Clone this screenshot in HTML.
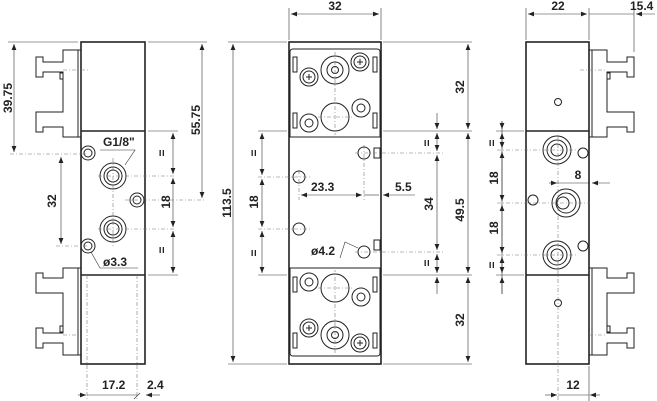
<!DOCTYPE html>
<html><head><meta charset="utf-8"><style>
html,body{margin:0;padding:0;background:#fff;}
svg{display:block;}
text{font-family:"Liberation Sans",Arial,sans-serif;font-weight:bold;font-size:12px;fill:#222;}
.b{fill:none;stroke:#222;stroke-width:1.6;}
.t{fill:none;stroke:#222;stroke-width:1;}
.d{fill:none;stroke:#333;stroke-width:0.6;}
.c{fill:none;stroke:#777;stroke-width:0.6;stroke-dasharray:4 2 1 2;}
</style></head><body>
<svg width="657" height="401" viewBox="0 0 657 401" xmlns="http://www.w3.org/2000/svg">
<defs>
<marker id="a" viewBox="0 0 10 10" refX="10" refY="5" markerWidth="8" markerHeight="6" orient="auto-start-reverse" markerUnits="userSpaceOnUse"><path d="M0,1 L10,5 L0,9z" fill="#222"/></marker>
<g id="clip">
<path class="t" d="M81,50 H63 V62 H43 V57 H36 V77 H43 V72 H63 V112 H43 V112 H36 V132 H43 V127 H63 V137 H81"/>
<line class="t" x1="78" y1="50" x2="78" y2="137"/>
<path class="t" d="M63,73 h-3 v6 h3"/>
</g>
<g id="mid">
<path class="t" d="M293,49 H377 Q380,49 380,52 V137 H290 V52 Q290,49 293,49z"/>
<rect class="t" x="293" y="57" width="4" height="15"/><rect class="t" x="293" y="113" width="4" height="15"/>
<rect class="t" x="373" y="57" width="4" height="15"/><rect class="t" x="373" y="113" width="4" height="15"/>
<circle class="t" cx="335" cy="70" r="14"/><circle class="t" cx="335" cy="70" r="8"/><circle class="t" cx="335" cy="70" r="3.5"/>
<circle class="t" cx="335" cy="117" r="14"/>
<circle class="t" cx="309" cy="77" r="9"/><circle class="t" cx="309" cy="77" r="6"/><path class="t" d="M306,77h6M309,74v6"/>
<circle class="t" cx="360" cy="62" r="9"/><circle class="t" cx="360" cy="62" r="6"/><path class="t" d="M357,62h6M360,59v6"/>
<circle class="t" cx="309" cy="123" r="9"/><circle class="t" cx="309" cy="123" r="4"/>
<circle class="t" cx="361" cy="108" r="9"/><circle class="t" cx="361" cy="108" r="4"/>
<line class="c" x1="335" y1="52" x2="335" y2="135"/><line class="c" x1="318" y1="117" x2="352" y2="117"/>
</g>
</defs>

<!-- LEFT VIEW -->
<rect class="b" x="81" y="42" width="64" height="322"/>
<line class="b" x1="81" y1="131" x2="145" y2="131"/><line class="b" x1="81" y1="275" x2="145" y2="275"/>
<use href="#clip"/>
<use href="#clip" transform="translate(0,405) scale(1,-1)"/>
<line class="c" x1="63" y1="70" x2="90" y2="70"/><line class="c" x1="63" y1="335" x2="81" y2="335"/>
<circle class="t" cx="113" cy="176" r="13"/><circle class="t" cx="113" cy="176" r="9"/><circle class="t" cx="113" cy="176" r="6"/>
<circle class="t" cx="113" cy="229" r="13"/><circle class="t" cx="113" cy="229" r="9"/><circle class="t" cx="113" cy="229" r="6"/>
<circle class="t" cx="88" cy="153" r="7"/><circle class="t" cx="88" cy="153" r="4"/>
<circle class="t" cx="137" cy="200" r="7"/><circle class="t" cx="137" cy="200" r="4"/>
<circle class="t" cx="88" cy="246" r="7"/><circle class="t" cx="88" cy="246" r="4"/>
<line class="c" x1="113" y1="158" x2="113" y2="247"/><line class="c" x1="98" y1="176" x2="175" y2="176"/><line class="c" x1="98" y1="229" x2="175" y2="229"/>
<line class="c" x1="125" y1="200" x2="205" y2="200"/>
<line class="c" x1="87" y1="275" x2="87" y2="400"/><line class="c" x1="137" y1="275" x2="137" y2="400"/>
<!-- dims left -->
<line class="d" x1="8" y1="42" x2="78" y2="42"/><line class="c" x1="10" y1="154" x2="88" y2="154"/>
<line class="d" x1="14" y1="44" x2="14" y2="152" marker-start="url(#a)" marker-end="url(#a)"/>
<text transform="translate(12,98) rotate(-90)" text-anchor="middle">39.75</text>
<line class="d" x1="148" y1="42" x2="207" y2="42"/>
<line class="d" x1="202" y1="44" x2="202" y2="198" marker-start="url(#a)" marker-end="url(#a)"/>
<text transform="translate(200,120) rotate(-90)" text-anchor="middle">55.75</text>
<line class="c" x1="56" y1="246" x2="88" y2="246"/>
<line class="d" x1="61" y1="157" x2="61" y2="244" marker-start="url(#a)" marker-end="url(#a)"/>
<text transform="translate(56,201) rotate(-90)" text-anchor="middle">32</text>
<line class="d" x1="148" y1="131" x2="178" y2="131"/><line class="d" x1="148" y1="275" x2="178" y2="275"/>
<line class="d" x1="173" y1="133" x2="173" y2="174" marker-start="url(#a)" marker-end="url(#a)"/>
<line class="d" x1="173" y1="178" x2="173" y2="227" marker-start="url(#a)" marker-end="url(#a)"/>
<line class="d" x1="173" y1="231" x2="173" y2="273" marker-start="url(#a)" marker-end="url(#a)"/>
<text transform="translate(166,153) rotate(-90)" text-anchor="middle">=</text>
<text transform="translate(170,202) rotate(-90)" text-anchor="middle">18</text>
<text transform="translate(166,250) rotate(-90)" text-anchor="middle">=</text>
<text x="103" y="146">G1/8"</text>
<path class="d" d="M100,150 H135 L125,165"/>
<text x="103" y="266">ø3.3</text>
<path class="d" d="M91,252 L100,268 H138"/>
<line class="d" x1="78" y1="395" x2="86" y2="395" marker-end="url(#a)"/><line class="d" x1="87" y1="395" x2="137" y2="395"/>
<line class="d" x1="160" y1="395" x2="146" y2="395" marker-end="url(#a)"/>
<text x="102" y="389">17.2</text><text x="147" y="389">2.4</text>
<path class="d" d="M134,399 l6,-6"/>

<!-- MIDDLE VIEW -->
<rect class="b" x="289" y="42" width="92" height="322"/>
<use href="#mid"/>
<use href="#mid" transform="translate(0,405) scale(1,-1)"/>
<circle class="t" cx="299" cy="177" r="6"/><circle class="t" cx="299" cy="229" r="6"/>
<circle class="t" cx="364" cy="153" r="6"/><circle class="t" cx="364" cy="252" r="6"/>
<rect class="t" x="374" y="148" width="6" height="10"/><rect class="t" x="374" y="240" width="6" height="10"/>
<line class="c" x1="258" y1="177" x2="310" y2="177"/><line class="c" x1="258" y1="229" x2="310" y2="229"/>
<line class="c" x1="355" y1="153" x2="443" y2="153"/><line class="c" x1="355" y1="252" x2="443" y2="252"/>
<line class="c" x1="299" y1="170" x2="299" y2="200"/><line class="c" x1="364" y1="145" x2="364" y2="200"/>
<line class="d" x1="289" y1="8" x2="289" y2="40"/><line class="d" x1="381" y1="8" x2="381" y2="40"/>
<line class="d" x1="291" y1="14" x2="379" y2="14" marker-start="url(#a)" marker-end="url(#a)"/>
<text x="335" y="10" text-anchor="middle">32</text>
<line class="d" x1="228" y1="42" x2="287" y2="42"/><line class="d" x1="228" y1="364" x2="287" y2="364"/>
<line class="d" x1="233" y1="44" x2="233" y2="362" marker-start="url(#a)" marker-end="url(#a)"/>
<text transform="translate(231,203) rotate(-90)" text-anchor="middle">113.5</text>
<line class="d" x1="383" y1="42" x2="472" y2="42"/><line class="d" x1="383" y1="364" x2="472" y2="364"/>
<line class="d" x1="383" y1="131" x2="472" y2="131"/><line class="d" x1="383" y1="275" x2="472" y2="275"/>
<line class="d" x1="258" y1="131" x2="287" y2="131"/><line class="d" x1="258" y1="275" x2="287" y2="275"/>
<line class="d" x1="468" y1="44" x2="468" y2="129" marker-start="url(#a)" marker-end="url(#a)"/>
<line class="d" x1="468" y1="133" x2="468" y2="273" marker-start="url(#a)" marker-end="url(#a)"/>
<line class="d" x1="468" y1="277" x2="468" y2="362" marker-start="url(#a)" marker-end="url(#a)"/>
<text transform="translate(464,87) rotate(-90)" text-anchor="middle">32</text>
<text transform="translate(464,210) rotate(-90)" text-anchor="middle">49.5</text>
<text transform="translate(464,320) rotate(-90)" text-anchor="middle">32</text>
<line class="d" x1="437" y1="113" x2="437" y2="129" marker-end="url(#a)"/>
<line class="d" x1="437" y1="133" x2="437" y2="151" marker-start="url(#a)" marker-end="url(#a)"/>
<line class="d" x1="437" y1="155" x2="437" y2="250" marker-start="url(#a)" marker-end="url(#a)"/>
<line class="d" x1="437" y1="254" x2="437" y2="273" marker-start="url(#a)" marker-end="url(#a)"/>
<line class="d" x1="437" y1="294" x2="437" y2="277" marker-end="url(#a)"/>
<text transform="translate(431,143) rotate(-90)" text-anchor="middle">=</text>
<text transform="translate(433,204) rotate(-90)" text-anchor="middle">34</text>
<text transform="translate(431,263) rotate(-90)" text-anchor="middle">=</text>
<line class="d" x1="262" y1="133" x2="262" y2="175" marker-start="url(#a)" marker-end="url(#a)"/>
<line class="d" x1="262" y1="179" x2="262" y2="227" marker-start="url(#a)" marker-end="url(#a)"/>
<line class="d" x1="262" y1="231" x2="262" y2="273" marker-start="url(#a)" marker-end="url(#a)"/>
<text transform="translate(258,153) rotate(-90)" text-anchor="middle">=</text>
<text transform="translate(258,202) rotate(-90)" text-anchor="middle">18</text>
<text transform="translate(258,253) rotate(-90)" text-anchor="middle">=</text>
<line class="d" x1="301" y1="195" x2="362" y2="195" marker-start="url(#a)" marker-end="url(#a)"/>
<line class="d" x1="364" y1="195" x2="379" y2="195"/>
<line class="d" x1="415" y1="195" x2="383" y2="195" marker-end="url(#a)"/>
<text x="311" y="191">23.3</text><text x="395" y="191">5.5</text>
<text x="311" y="255">ø4.2</text>
<path class="d" d="M340,258 L345,242 L358,248"/>

<!-- RIGHT VIEW -->
<rect class="b" x="526" y="42" width="63" height="322"/>
<line class="b" x1="526" y1="131" x2="589" y2="131"/><line class="b" x1="526" y1="275" x2="589" y2="275"/>
<use href="#clip" transform="translate(670,0) scale(-1,1)"/>
<use href="#clip" transform="translate(670,405) scale(-1,-1)"/>
<line class="c" x1="580" y1="70" x2="607" y2="70"/><line class="c" x1="589" y1="335" x2="607" y2="335"/>
<circle class="t" cx="558" cy="102" r="3.5"/><circle class="t" cx="558" cy="303" r="3.5"/>
<circle class="t" cx="557" cy="150" r="14"/><circle class="t" cx="557" cy="150" r="10"/><circle class="t" cx="557" cy="150" r="6"/>
<circle class="t" cx="566" cy="203" r="14"/><circle class="t" cx="566" cy="203" r="10"/><circle class="t" cx="563" cy="203" r="6"/>
<circle class="t" cx="557" cy="255" r="14"/><circle class="t" cx="557" cy="255" r="10"/><circle class="t" cx="557" cy="255" r="6"/>
<circle class="t" cx="583" cy="153" r="5"/><circle class="t" cx="533" cy="200" r="5"/><circle class="t" cx="583" cy="246" r="5"/>
<line class="c" x1="497" y1="150" x2="578" y2="150"/><line class="c" x1="497" y1="203" x2="590" y2="203"/><line class="c" x1="497" y1="255" x2="578" y2="255"/>
<line class="c" x1="558" y1="135" x2="558" y2="401"/>
<line class="d" x1="526" y1="8" x2="526" y2="40"/><line class="d" x1="589" y1="8" x2="589" y2="40"/><line class="d" x1="634" y1="8" x2="634" y2="52"/>
<line class="d" x1="528" y1="14" x2="587" y2="14" marker-start="url(#a)" marker-end="url(#a)"/>
<line class="d" x1="589" y1="14" x2="634" y2="14"/>
<line class="d" x1="655" y1="14" x2="636" y2="14" marker-end="url(#a)"/>
<text x="558" y="10" text-anchor="middle">22</text><text x="630" y="10">15.4</text>
<line class="d" x1="496" y1="131" x2="524" y2="131"/><line class="d" x1="496" y1="275" x2="524" y2="275"/>
<line class="d" x1="502" y1="121" x2="502" y2="294"/>
<line class="d" x1="502" y1="121" x2="502" y2="129" marker-end="url(#a)"/>
<line class="d" x1="502" y1="133" x2="502" y2="148" marker-start="url(#a)" marker-end="url(#a)"/>
<line class="d" x1="502" y1="152" x2="502" y2="201" marker-start="url(#a)" marker-end="url(#a)"/>
<line class="d" x1="502" y1="205" x2="502" y2="253" marker-start="url(#a)" marker-end="url(#a)"/>
<line class="d" x1="502" y1="257" x2="502" y2="273" marker-start="url(#a)" marker-end="url(#a)"/>
<line class="d" x1="502" y1="294" x2="502" y2="277" marker-end="url(#a)"/>
<text transform="translate(496,143) rotate(-90)" text-anchor="middle">=</text>
<text transform="translate(498,178) rotate(-90)" text-anchor="middle">18</text>
<text transform="translate(498,228) rotate(-90)" text-anchor="middle">18</text>
<text transform="translate(496,265) rotate(-90)" text-anchor="middle">=</text>
<line class="d" x1="549" y1="183" x2="557" y2="183" marker-end="url(#a)"/><line class="d" x1="557" y1="183" x2="590" y2="183"/>
<line class="d" x1="610" y1="183" x2="592" y2="183" marker-end="url(#a)"/>
<text x="578" y="179" text-anchor="middle">8</text>
<line class="d" x1="545" y1="395" x2="557" y2="395" marker-end="url(#a)"/><line class="d" x1="558" y1="395" x2="589" y2="395"/>
<line class="d" x1="600" y1="395" x2="590" y2="395" marker-end="url(#a)"/>
<line class="d" x1="589" y1="366" x2="589" y2="401"/>
<text x="573" y="389" text-anchor="middle">12</text>
</svg>
</body></html>
